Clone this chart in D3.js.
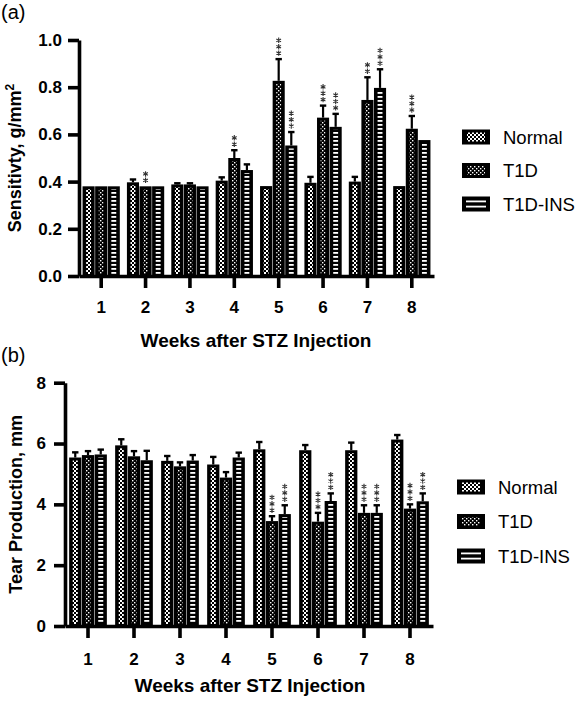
<!DOCTYPE html>
<html><head><meta charset="utf-8">
<script src="https://cdn.jsdelivr.net/npm/d3@7/dist/d3.min.js"></script>
<style>
body{margin:0;background:#fff;}
svg{display:block;font-family:"Liberation Sans",Arial,sans-serif;}
</style></head>
<body><svg id="chart" width="577" height="706"></svg>
<script>
// ---------- DATA ----------
const weeks = ["1","2","3","4","5","6","7","8"];
const seriesNames = ["Normal","T1D","T1D-INS"];

// (a) Sensitivity, g/mm^2
const sensNormal    = [0.38, 0.397, 0.388, 0.404, 0.381, 0.395, 0.400, 0.381];
const sensNormalErr = [0,    0.012, 0.005, 0.014, 0,     0.025, 0.020, 0];
const sensT1D       = [0.38, 0.38,  0.388, 0.500, 0.827, 0.671, 0.746, 0.624];
const sensT1DErr    = [0,    0,     0.005, 0.033, 0.092, 0.051, 0.096, 0.054];
const sensINS       = [0.38, 0.38,  0.38,  0.449, 0.553, 0.632, 0.797, 0.576];
const sensINSErr    = [0,    0,     0,     0.024, 0.057, 0.055, 0.079, 0];
const sensNormalSig = ["","","","","","","",""];
const sensT1DSig    = ["","**","","**","***","***","**","***"];
const sensINSSig    = ["","","","","***","***","***",""];
const sensTicks     = [0, 0.2, 0.4, 0.6, 0.8, 1.0];

// (b) Tear production, mm
const tearNormal    = [5.54, 5.94, 5.43, 5.31, 5.81, 5.78, 5.78, 6.13];
const tearNormalErr = [0.17, 0.20, 0.16, 0.25, 0.24, 0.17, 0.25, 0.15];
const tearT1D       = [5.62, 5.58, 5.25, 4.88, 3.45, 3.43, 3.72, 3.86];
const tearT1DErr    = [0.13, 0.17, 0.13, 0.18, 0.16, 0.29, 0.25, 0.14];
const tearINS       = [5.64, 5.45, 5.44, 5.54, 3.68, 4.11, 3.72, 4.10];
const tearINSErr    = [0.16, 0.31, 0.18, 0.16, 0.29, 0.25, 0.25, 0.26];
const tearNormalSig = ["","","","","","","",""];
const tearT1DSig    = ["","","","","***","***","***","***"];
const tearINSSig    = ["","","","","***","***","***","***"];
const tearTicks     = [0, 2, 4, 6, 8];

// ---------- DRAWING ----------
const svg = d3.select("#chart");
const defs = svg.append("defs");

function pattern(id, w, h, rects){
  const p = defs.append("pattern").attr("id", id).attr("patternUnits","userSpaceOnUse")
    .attr("width", w).attr("height", h);
  p.append("rect").attr("width", w).attr("height", h).attr("fill", "#000");
  rects.forEach(r => p.append("rect").attr("x", r[0]).attr("y", r[1]).attr("width", r[2]).attr("height", r[3]).attr("fill", "#fff"));
}
pattern("pNormal", 4, 4, [[0,0,2,2],[2,2,2,2]]);
pattern("pT1D", 4, 4, [[0,0,1.4,1.4],[2,2,1.4,1.4]]);
pattern("pINS", 4, 4, [[0,0,4,1.8]]);
const patIds = ["pNormal","pT1D","pINS"];

const starPath = d3.symbol().type(d3.symbolAsterisk).size(20)();

function panel(cfg){
  const g = svg.append("g");
  const x0 = d3.scaleBand().domain(weeks).range([cfg.axisX, cfg.xEnd]).paddingInner(0).paddingOuter(0);
  const groupW = x0.bandwidth() * cfg.groupFrac;
  const x1 = d3.scaleBand().domain(seriesNames).range([0, groupW]).paddingInner(0.04);
  const y = d3.scaleLinear().domain(cfg.yDomain).range([cfg.base, cfg.top]);

  const data = [];
  seriesNames.forEach((s, si) => {
    weeks.forEach((wk, i) => {
      data.push({s, si, wk, v: cfg.vals[si][i], e: cfg.errs[si][i], sig: cfg.sigs[si][i]});
    });
  });
  const bx = d => x0(d.wk) + (x0.bandwidth() - groupW) / 2 + x1(d.s);
  const bw = x1.bandwidth();

  // bars
  const bars = g.append("g");
  bars.selectAll("rect.bar").data(data).join("rect").attr("class","bar")
    .attr("x", bx).attr("width", bw)
    .attr("y", d => y(d.v)).attr("height", d => y(0) - y(d.v)).attr("fill", "#000");
  bars.selectAll("rect.fill").data(data).join("rect").attr("class","fill")
    .attr("x", d => bx(d) + 3.6).attr("width", bw - 7.2)
    .attr("y", d => y(d.v) + 3).attr("height", d => Math.max(0, y(0) - y(d.v) - 5))
    .attr("fill", d => `url(#${patIds[d.si]})`);

  // error bars
  const eb = data.filter(d => d.e > 0);
  g.append("g").selectAll("line").data(eb).join("line")
    .attr("x1", d => bx(d) + bw/2).attr("x2", d => bx(d) + bw/2)
    .attr("y1", d => y(d.v)).attr("y2", d => y(d.v + d.e))
    .attr("stroke", "#000").attr("stroke-width", 2.2);
  g.append("g").selectAll("line").data(eb).join("line")
    .attr("x1", d => bx(d) + bw/2 - 3.2).attr("x2", d => bx(d) + bw/2 + 3.2)
    .attr("y1", d => y(d.v + d.e)).attr("y2", d => y(d.v + d.e))
    .attr("stroke", "#000").attr("stroke-width", 2.4);

  // significance stars, stacked vertically as in the original
  const stars = [];
  data.filter(d => d.sig).forEach(d => {
    for (let k = 0; k < d.sig.length; k++) stars.push({d, k});
  });
  g.append("g").selectAll("path").data(stars).join("path")
    .attr("d", starPath)
    .attr("transform", s => `translate(${bx(s.d) + bw/2},${y(s.d.v + s.d.e) - 6 - s.k * 6.4})`)
    .attr("fill", "none").attr("stroke", "#333").attr("stroke-width", 1.1);

  // y axis
  const ya = g.append("g").attr("transform", `translate(${cfg.axisX},0)`)
    .call(d3.axisLeft(y).tickValues(cfg.ticks).tickFormat(cfg.fmt).tickSize(11).tickSizeOuter(0).tickPadding(cfg.yPad));
  ya.select(".domain").attr("stroke-width", 3.6).attr("stroke", "#000");
  ya.selectAll(".tick line").attr("stroke-width", 3.6);
  ya.selectAll("text").attr("font-size", 17).attr("font-weight", "bold").attr("fill", "#000")
    .attr("font-family", "Liberation Sans, Arial, sans-serif");

  // x axis
  const xa = g.append("g").attr("transform", `translate(0,${cfg.base})`)
    .call(d3.axisBottom(x0).tickSize(12).tickSizeOuter(0).tickPadding(cfg.xPad));
  xa.select(".domain").attr("stroke-width", 3.6).attr("stroke", "#000");
  xa.selectAll(".tick line").attr("stroke-width", 3.6);
  xa.selectAll("text").attr("font-size", 17).attr("font-weight", "bold").attr("fill", "#000")
    .attr("font-family", "Liberation Sans, Arial, sans-serif");

  // titles
  g.append("text").attr("x", cfg.xTitleX).attr("y", cfg.xTitleY).attr("text-anchor", "middle")
    .attr("font-size", 19).attr("font-weight", "bold").text("Weeks after STZ Injection");
  const yt = g.append("text")
    .attr("transform", `translate(${cfg.yTitleX},${(cfg.base + cfg.top)/2}) rotate(-90)`)
    .attr("text-anchor", "middle").attr("font-size", 18).attr("font-weight", "bold");
  yt.append("tspan").text(cfg.yTitle);
  if (cfg.yTitleSup) yt.append("tspan").attr("dy", -7).attr("font-size", 12).text(cfg.yTitleSup);

  // panel label
  svg.append("text").attr("x", 1).attr("y", cfg.labelY).attr("font-size", 20).text(cfg.label);

  // legend
  const lg = g.append("g");
  seriesNames.forEach((s, i) => {
    const cy = cfg.legY + i * cfg.legStep;
    lg.append("rect").attr("x", cfg.legX).attr("y", cy - 7.5).attr("width", 28).attr("height", 15).attr("fill", "#000");
    if (i < 2) {
      lg.append("rect").attr("x", cfg.legX + 5).attr("y", cy - 4.5).attr("width", 18).attr("height", 9)
        .attr("fill", `url(#${patIds[i]})`);
    } else {
      [-2.6, 2.6].forEach(o => lg.append("line").attr("x1", cfg.legX + 4).attr("x2", cfg.legX + 24)
        .attr("y1", cy + o).attr("y2", cy + o).attr("stroke", "#fff").attr("stroke-width", 1.8));
    }
    lg.append("text").attr("x", cfg.legX + 41).attr("y", cy + 6.5).attr("font-size", 18.5).text(s);
  });
}

panel({
  vals: [sensNormal, sensT1D, sensINS], errs: [sensNormalErr, sensT1DErr, sensINSErr],
  sigs: [sensNormalSig, sensT1DSig, sensINSSig],
  yDomain: [0, 1], ticks: sensTicks, fmt: d3.format(".1f"),
  axisX: 79, xEnd: 434, base: 276, top: 40, groupFrac: 0.84,
  yPad: 6, xPad: 13, xTitleX: 256, xTitleY: 347,
  yTitle: "Sensitivty, g/mm", yTitleSup: "2", yTitleX: 21,
  label: "(a)", labelY: 19,
  legX: 462, legY: 137, legStep: 33.5
});

panel({
  vals: [tearNormal, tearT1D, tearINS], errs: [tearNormalErr, tearT1DErr, tearINSErr],
  sigs: [tearNormalSig, tearT1DSig, tearINSSig],
  yDomain: [0, 8], ticks: tearTicks, fmt: d3.format("d"),
  axisX: 65, xEnd: 433, base: 626, top: 382.7, groupFrac: 0.82,
  yPad: 8, xPad: 15, xTitleX: 250, xTitleY: 692,
  yTitle: "Tear Production, mm", yTitleSup: null, yTitleX: 22,
  label: "(b)", labelY: 362,
  legX: 457, legY: 487, legStep: 34.5
});
</script></body></html>
